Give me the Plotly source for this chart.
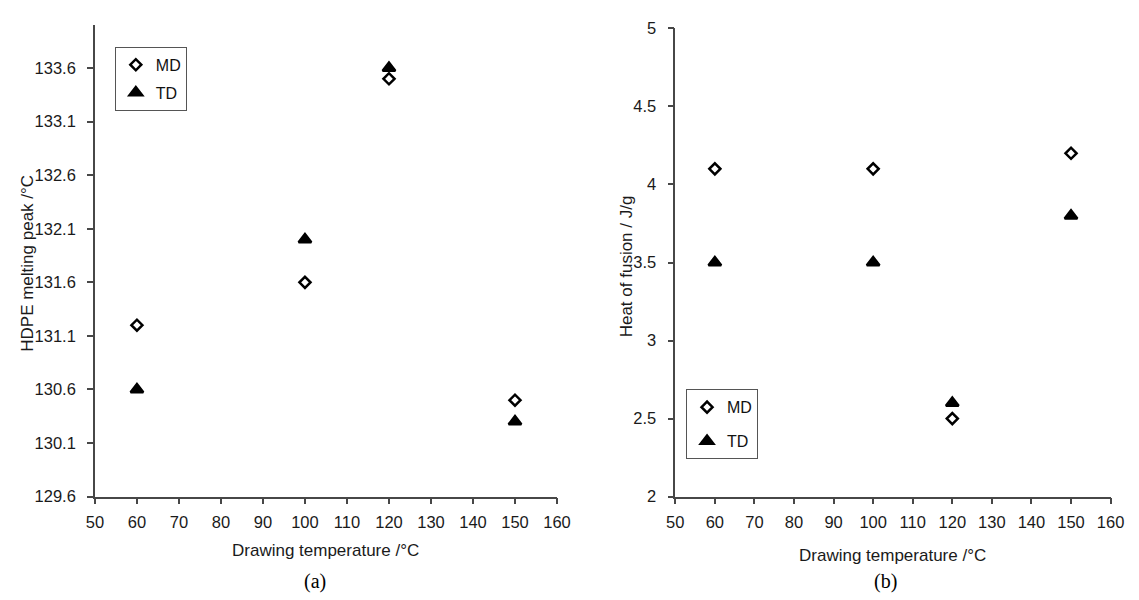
import plotly.graph_objects as go

# Data
temps = [60, 100, 120, 150]
melt_md = [131.2, 131.6, 133.5, 130.5]
melt_td = [130.6, 132.0, 133.6, 130.3]
heat_md = [4.1, 4.1, 2.5, 4.2]
heat_td = [3.5, 3.5, 2.6, 3.8]

x_ticks = [50, 60, 70, 80, 90, 100, 110, 120, 130, 140, 150, 160]
melt_ticks = [129.6, 130.1, 130.6, 131.1, 131.6, 132.1, 132.6, 133.1, 133.6]
melt_tick_text = ["129.6", "130.1", "130.6", "131.1", "131.6", "132.1", "132.6", "133.1", "133.6"]
heat_ticks = [2, 2.5, 3, 3.5, 4, 4.5, 5]
heat_tick_text = ["2", "2.5", "3", "3.5", "4", "4.5", "5"]

FONT = "Liberation Sans, Arial, sans-serif"
AXC = "#474747"

md_marker = dict(symbol="diamond-open", size=8.5, color="black", line=dict(width=2.5, color="black"))
td_marker = dict(symbol="triangle-up", size=11, color="black", line=dict(width=2.5, color="black"))

fig = go.Figure()
fig.add_trace(go.Scatter(x=temps, y=melt_md, mode="markers", name="MD", marker=md_marker,
                         xaxis="x", yaxis="y", legend="legend", legendgroup="a_md"))
fig.add_trace(go.Scatter(x=temps, y=melt_td, mode="markers", name="TD", marker=td_marker,
                         xaxis="x", yaxis="y", legend="legend", legendgroup="a_td"))
fig.add_trace(go.Scatter(x=temps, y=heat_md, mode="markers", name="MD", marker=md_marker,
                         xaxis="x2", yaxis="y2", legend="legend2", legendgroup="b_md"))
fig.add_trace(go.Scatter(x=temps, y=heat_td, mode="markers", name="TD", marker=td_marker,
                         xaxis="x2", yaxis="y2", legend="legend2", legendgroup="b_td"))

W, H = 1139, 600

def xax(dom, anchor):
    return dict(domain=dom, anchor=anchor, range=[50, 160], tickvals=x_ticks,
                showgrid=False, zeroline=False, showline=True, linecolor=AXC, linewidth=1.5,
                ticks="outside", ticklen=6, tickcolor=AXC, tickwidth=1.5,
                tickfont=dict(family=FONT, size=16.5, color="#1a1a1a"), ticklabelstandoff=4)

def yax(dom, anchor, rng, tv, tt):
    return dict(domain=dom, anchor=anchor, range=rng, tickvals=tv, ticktext=tt,
                showgrid=False, zeroline=False, showline=True, linecolor=AXC, linewidth=1.5,
                ticks="outside", ticklen=6, tickcolor=AXC, tickwidth=1.5,
                tickfont=dict(family=FONT, size=16.5, color="#1a1a1a"), ticklabelstandoff=8)

bottom = 1 - 502.7 / H
fig.update_layout(
    width=W, height=H, margin=dict(l=0, r=0, t=0, b=0),
    paper_bgcolor="white", plot_bgcolor="white",
    xaxis=xax([87.7 / W, 559.3 / W], "y"),
    yaxis=yax([bottom, 1 - 16.7 / H], "x", [129.6, 134.0], melt_ticks, melt_tick_text),
    xaxis2=xax([680 / W, 1124.3 / W], "y2"),
    yaxis2=yax([bottom, 1 - 20 / H], "x2", [2, 5], heat_ticks, heat_tick_text),
    legend=dict(x=108 / W, y=1 - 39 / H, xanchor="left", yanchor="top",
                bordercolor="#555555", borderwidth=1, bgcolor="white",
                font=dict(family=FONT, size=16, color="#111111"),
                itemwidth=30, tracegroupgap=4, traceorder="grouped"),
    legend2=dict(x=691 / W, y=1 - 392 / H, xanchor="left", yanchor="top",
                 bordercolor="#555555", borderwidth=1, bgcolor="white",
                 font=dict(family=FONT, size=16, color="#111111"),
                 itemwidth=30, tracegroupgap=10, traceorder="grouped"),
    showlegend=True,
)

ann = [
    dict(text="HDPE melting peak /°C", x=19 / W, y=1 - 262 / H, textangle=-90, size=17),
    dict(text="Drawing temperature /°C", x=323.5 / W, y=1 - 558 / H, textangle=0, size=17),
    dict(text="Heat of fusion / J/g", x=630 / W, y=1 - 265 / H, textangle=-90, size=17),
    dict(text="Drawing temperature /°C", x=902 / W, y=1 - 563 / H, textangle=0, size=17),
]
for a in ann:
    fig.add_annotation(text=a["text"], x=a["x"], y=a["y"], xref="paper", yref="paper",
                       showarrow=False, textangle=a["textangle"], xanchor="center", yanchor="middle",
                       font=dict(family=FONT, size=a["size"], color="#1a1a1a"))

for txt, xc in [("(a)", 312), ("(b)", 895)]:
    fig.add_annotation(text=txt, x=xc / W, y=1 - 590 / H, xref="paper", yref="paper",
                       showarrow=False, xanchor="center", yanchor="middle",
                       font=dict(family="Liberation Serif, Times New Roman, serif", size=20, color="black"))

fig.write_html("out.html")
